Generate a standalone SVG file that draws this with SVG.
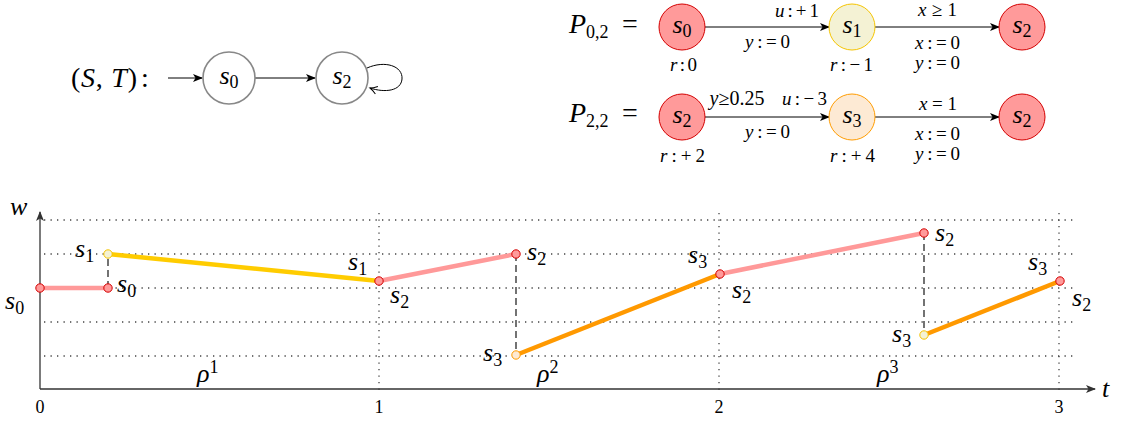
<svg xmlns="http://www.w3.org/2000/svg" width="1124" height="423" viewBox="0 0 1124 423" font-family="'Liberation Serif',serif">
<defs>
<marker id="ah" viewBox="0 0 10 8" refX="9" refY="4" markerWidth="10" markerHeight="8" markerUnits="userSpaceOnUse" orient="auto">
<path d="M0,0 L10,4 L0,8 L2.5,4 z" fill="#000"/>
</marker>
<marker id="ahg" viewBox="0 0 10 8" refX="9" refY="4" markerWidth="10" markerHeight="8" markerUnits="userSpaceOnUse" orient="auto">
<path d="M0,0 L10,4 L0,8 L2.5,4 z" fill="#333"/>
</marker>
<marker id="hook" viewBox="0 0 10 10" refX="8" refY="5" markerWidth="10" markerHeight="10" markerUnits="userSpaceOnUse" orient="auto">
<path d="M1,1 Q5,4 8,5 Q5,6 1,9" fill="none" stroke="#000" stroke-width="1"/>
</marker>
</defs>
<style>
text{font-family:'Liberation Serif',serif;fill:#000}
.m{font-style:italic;font-size:26px}
.big{font-style:italic;font-size:28px}
.sub{font-style:normal;font-size:18px}
.e{font-size:19px;font-style:normal}
.i{font-style:italic}
.tick{font-size:18px;font-style:normal}
.gn{fill:#fff;stroke:#888;stroke-width:1.6}
.red{fill:#ff9a9a;stroke:#d40000;stroke-width:1}
.yel{fill:#f4f2d4;stroke:#f5c400;stroke-width:1}
.org{fill:#fdead4;stroke:#ff9c00;stroke-width:1}
.edge{stroke:#000;stroke-width:1;fill:none;marker-end:url(#ah)}
.grid{stroke:#444;stroke-width:1.3;stroke-dasharray:1.3 5.2;fill:none}
.axis{stroke:#333;stroke-width:1.3;fill:none;marker-end:url(#ahg)}
.dash{stroke:#000;stroke-width:1.1;stroke-dasharray:7 4;fill:none}
.pk{stroke:#ff9999;stroke-width:4.5;fill:none}
.yl{stroke:#ffcc00;stroke-width:4.5;fill:none}
.or{stroke:#ff9900;stroke-width:4.5;fill:none}
</style>

<!-- (S,T) system -->
<text x="71" y="87" style="font-size:28px" textLength="66" lengthAdjust="spacing">(<tspan class="i">S</tspan>, <tspan class="i">T</tspan>)</text>
<text x="141" y="87" style="font-size:28px">:</text>
<g id="connectors-st">
<line class="edge" x1="168" y1="78" x2="202" y2="78"/>
<line class="edge" x1="255" y1="78" x2="315" y2="78"/>
<path d="M367,68 C385,60 403,66 402,79 C401,91 385,93 370,88" fill="none" stroke="#000" stroke-width="1" marker-end="url(#hook)"/>
</g>
<g id="st-s0"><circle class="gn" cx="229" cy="78" r="26"/><text class="m" x="229" y="84" text-anchor="middle">s<tspan class="sub" dy="4">0</tspan></text></g>
<g id="st-s2"><circle class="gn" cx="342" cy="78" r="26"/><text class="m" x="342" y="84" text-anchor="middle">s<tspan class="sub" dy="4">2</tspan></text></g>

<!-- P_{0,2} -->
<text class="big" x="569" y="33">P<tspan class="sub" dy="5">0,2</tspan></text>
<text x="622" y="33" style="font-size:28px">=</text>
<g id="connectors-p02">
<line class="edge" x1="705" y1="27" x2="829" y2="27"/>
<line class="edge" x1="875" y1="27" x2="999" y2="27"/>
</g>
<g id="p02-s0"><circle class="red" cx="682" cy="27" r="23"/><text class="m" x="682" y="33" text-anchor="middle">s<tspan class="sub" dy="4">0</tspan></text></g>
<g id="p02-s1"><circle class="yel" cx="852" cy="27" r="23"/><text class="m" x="852" y="33" text-anchor="middle">s<tspan class="sub" dy="4">1</tspan></text></g>
<g id="p02-s2"><circle class="red" cx="1022" cy="27" r="23"/><text class="m" x="1022" y="33" text-anchor="middle">s<tspan class="sub" dy="4">2</tspan></text></g>
<g id="p02-labels">
<text class="e" x="775" y="17" textLength="44" lengthAdjust="spacing"><tspan class="i">u</tspan>:+1</text>
<text class="e" x="745" y="48" textLength="45" lengthAdjust="spacing"><tspan class="i">y</tspan>:=0</text>
<text class="e" x="670" y="71" textLength="27" lengthAdjust="spacing"><tspan class="i">r</tspan>:0</text>
<text class="e" x="830" y="71" textLength="43" lengthAdjust="spacing"><tspan class="i">r</tspan>:−1</text>
<text class="e" x="918" y="16" textLength="39" lengthAdjust="spacing"><tspan class="i">x</tspan>≥1</text>
<text class="e" x="915" y="49" textLength="45" lengthAdjust="spacing"><tspan class="i">x</tspan>:=0</text>
<text class="e" x="915" y="69" textLength="45" lengthAdjust="spacing"><tspan class="i">y</tspan>:=0</text>
</g>

<!-- P_{2,2} -->
<text class="big" x="569" y="122">P<tspan class="sub" dy="5">2,2</tspan></text>
<text x="622" y="122" style="font-size:28px">=</text>
<g id="connectors-p22">
<line class="edge" x1="705" y1="117" x2="829" y2="117"/>
<line class="edge" x1="875" y1="117" x2="999" y2="117"/>
</g>
<g id="p22-s2a"><circle class="red" cx="682" cy="117" r="23"/><text class="m" x="682" y="123" text-anchor="middle">s<tspan class="sub" dy="4">2</tspan></text></g>
<g id="p22-s3"><circle class="org" cx="852" cy="117" r="23"/><text class="m" x="852" y="123" text-anchor="middle">s<tspan class="sub" dy="4">3</tspan></text></g>
<g id="p22-s2b"><circle class="red" cx="1022" cy="117" r="23"/><text class="m" x="1022" y="123" text-anchor="middle">s<tspan class="sub" dy="4">2</tspan></text></g>
<g id="p22-labels">
<text class="e" x="737" y="105" text-anchor="middle" style="font-size:20px"><tspan class="i">y</tspan>≥0.25</text>
<text class="e" x="782" y="105" textLength="45" lengthAdjust="spacing"><tspan class="i">u</tspan>:−3</text>
<text class="e" x="745" y="138" textLength="45" lengthAdjust="spacing"><tspan class="i">y</tspan>:=0</text>
<text class="e" x="660" y="162" textLength="45" lengthAdjust="spacing"><tspan class="i">r</tspan>:+2</text>
<text class="e" x="830" y="162" textLength="45" lengthAdjust="spacing"><tspan class="i">r</tspan>:+4</text>
<text class="e" x="919" y="110" textLength="38" lengthAdjust="spacing"><tspan class="i">x</tspan>=1</text>
<text class="e" x="915" y="140" textLength="45" lengthAdjust="spacing"><tspan class="i">x</tspan>:=0</text>
<text class="e" x="915" y="160" textLength="45" lengthAdjust="spacing"><tspan class="i">y</tspan>:=0</text>
</g>

<!-- plot -->
<g id="grid">
<path class="grid" d="M44,220 H1075 M44,254 H1075 M44,288 H1075 M44,322 H1075 M44,356 H1075"/>
<path class="grid" d="M379,213 V395 M719,213 V395 M1059,213 V395"/>
</g>
<g id="axes">
<line class="axis" x1="40" y1="389" x2="40" y2="212"/>
<line class="axis" x1="40" y1="389" x2="1095" y2="389"/>
<text class="m" x="10" y="215">w</text>
<text class="m" x="1102" y="397">t</text>
<text class="tick" x="40" y="413" text-anchor="middle">0</text>
<text class="tick" x="379" y="413" text-anchor="middle">1</text>
<text class="tick" x="719" y="413" text-anchor="middle">2</text>
<text class="tick" x="1059" y="413" text-anchor="middle">3</text>
</g>
<g id="connectors">
<line class="dash" x1="108" y1="288" x2="108" y2="254"/>
<line class="dash" x1="516" y1="254" x2="516" y2="355"/>
<line class="dash" x1="924" y1="233" x2="924" y2="335"/>
<line class="pk" x1="40" y1="288" x2="108" y2="288"/>
<line class="yl" x1="108" y1="254" x2="379" y2="281"/>
<line class="pk" x1="379" y1="281" x2="516" y2="254"/>
<line class="or" x1="516" y1="355" x2="720" y2="274"/>
<line class="pk" x1="720" y1="274" x2="924" y2="233"/>
<line class="or" x1="924" y1="335" x2="1060" y2="281"/>
</g>
<g id="points">
<circle class="red" cx="40" cy="288" r="4.2"/>
<circle class="red" cx="108" cy="288" r="4.2"/>
<circle class="yel" cx="108" cy="254" r="4.2"/>
<circle class="red" cx="379" cy="281" r="4.2"/>
<circle class="red" cx="516" cy="254" r="4.2"/>
<circle class="org" cx="516" cy="355" r="4.2"/>
<circle class="red" cx="720" cy="274" r="4.2"/>
<circle class="red" cx="924" cy="233" r="4.2"/>
<circle class="yel" cx="924" cy="335" r="4.2"/>
<circle class="red" cx="1060" cy="281" r="4.2"/>
</g>
<g id="plot-labels">
<text class="m" x="5" y="309">s<tspan class="sub" dy="5">0</tspan></text>
<text class="m" x="117" y="292">s<tspan class="sub" dy="5">0</tspan></text>
<text class="m" x="75" y="257">s<tspan class="sub" dy="5">1</tspan></text>
<text class="m" x="348" y="270">s<tspan class="sub" dy="5">1</tspan></text>
<text class="m" x="390" y="303">s<tspan class="sub" dy="5">2</tspan></text>
<text class="m" x="527" y="260">s<tspan class="sub" dy="5">2</tspan></text>
<text class="m" x="483" y="361">s<tspan class="sub" dy="5">3</tspan></text>
<text class="m" x="688" y="263">s<tspan class="sub" dy="5">3</tspan></text>
<text class="m" x="732" y="298">s<tspan class="sub" dy="5">2</tspan></text>
<text class="m" x="935" y="241">s<tspan class="sub" dy="5">2</tspan></text>
<text class="m" x="892" y="342">s<tspan class="sub" dy="5">3</tspan></text>
<text class="m" x="1028" y="270">s<tspan class="sub" dy="5">3</tspan></text>
<text class="m" x="1072" y="306">s<tspan class="sub" dy="5">2</tspan></text>
<text class="m" x="197" y="382">ρ<tspan class="sub" dy="-9">1</tspan></text>
<text class="m" x="537" y="382">ρ<tspan class="sub" dy="-9">2</tspan></text>
<text class="m" x="877" y="382">ρ<tspan class="sub" dy="-9">3</tspan></text>
</g>
</svg>
